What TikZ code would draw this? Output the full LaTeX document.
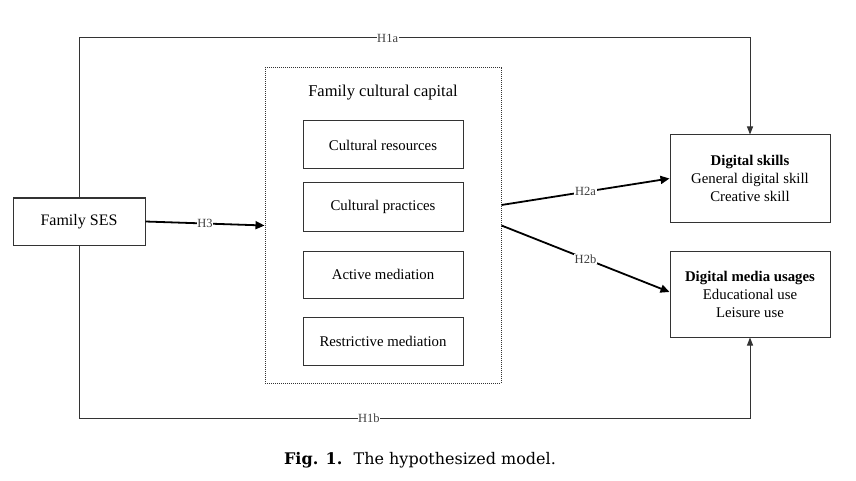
\documentclass[tikz,border=0pt]{standalone}
\usepackage{fontspec}
\setmainfont{Liberation Serif}
\newfontfamily\capfont{DejaVu Serif}
\usetikzlibrary{arrows.meta}

\tikzset{
    box/.style={draw=black!80, line width=1pt, align=center, inner sep=2pt},
    hlab/.style={fill=white, inner sep=0.6pt, font=\fontsize{12.5}{13}\selectfont, text=black!75},
    link/.style={draw=black!80, line width=1pt},
    flow/.style={draw=black, line width=1.8pt, -{Triangle[length=9pt, width=8pt]}},
}

\begin{document}
\begin{tikzpicture}[x=1pt, y=-1pt, >={Triangle[length=8pt, width=6pt]}]
    \useasboundingbox (0,0) rectangle (856,481);

    % left and right boxes
    \node[box, minimum width=132, minimum height=47, font=\fontsize{16}{18}\selectfont] (ses) at (79,221.5) {Family SES};
    \node[box, minimum width=160, minimum height=87, font=\fontsize{14.8}{18}\selectfont] (skills) at (750,178.5)
        {\textbf{Digital skills}\\General digital skill\\Creative skill};
    \node[box, minimum width=160, minimum height=86, font=\fontsize{14.8}{18}\selectfont] (usages) at (750,294)
        {\textbf{Digital media usages}\\Educational use\\Leisure use};

    % family cultural capital
    \node[draw=black!80, densely dotted, line width=1pt, minimum width=236, minimum height=315] (capital) at (383,225.5) {};
    \node[font=\fontsize{16.5}{18}\selectfont] (captitle) at (383,93) {Family cultural capital};
    \node[box, minimum width=160, minimum height=48, font=\fontsize{14.8}{16}\selectfont] (res) at (383,145) {Cultural resources};
    \node[box, minimum width=160, minimum height=48, font=\fontsize{14.8}{16}\selectfont] (prac) at (383,207) {Cultural practices};
    \node[box, minimum width=160, minimum height=47, font=\fontsize{14.8}{16}\selectfont] (act) at (383,274.5) {Active mediation};
    \node[box, minimum width=160, minimum height=48, font=\fontsize{14.8}{16}\selectfont] (restr) at (383,341) {Restrictive mediation};

    % paths
    \draw[link, ->] (ses.north) |- node[hlab, pos=0.73] {H1a} (skills.north |- 0,38) -- (skills.north);
    \draw[link, ->] (ses.south) |- node[hlab, pos=0.716] {H1b} (usages.south |- 0,418) -- (usages.south);
    \draw[flow] (ses.east) -- node[hlab] {H3} (capital.west);
    \draw[flow] ([yshift=20.5pt]capital.east) -- node[hlab] {H2a} (skills.west);
    \draw[flow] (capital.east) -- node[hlab] {H2b} ([yshift=2pt]usages.west);

    \node[font=\capfont\fontsize{16}{18}\selectfont] (caption) at (420,460) {\textbf{Fig. 1.}\hspace{0.7em}The hypothesized model.};
\end{tikzpicture}
\end{document}
